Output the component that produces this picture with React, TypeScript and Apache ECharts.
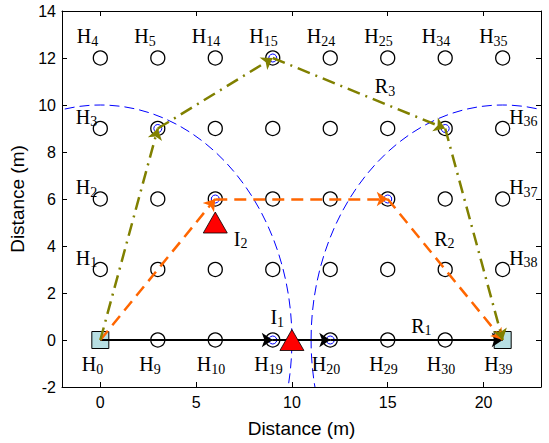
import React, { useEffect, useRef } from "react";
import * as echarts from "echarts";

// Grid of nodes (m)
const gridXs = [0, 3, 6, 9, 12, 15, 18, 21];
const gridYs = [0, 3, 6, 9, 12];

// Node ids labelled around the border
const bottomIds = [0, 9, 10, 19, 20, 29, 30, 39];
const topIds = [4, 5, 14, 15, 24, 25, 34, 35];
const leftIds = [1, 2, 3];
const rightIds = [36, 37, 38];

// Endpoints (squares)
const endpoints = [
  [0, 0],
  [21, 0],
];

// Interferers (triangles)
const interferers = [
  { name: "I", sub: "1", pos: [10, 0] },
  { name: "I", sub: "2", pos: [6, 5] },
];

// Interference ranges: centre x, centre y, radius
const ranges = [
  [0, 0, 10],
  [21, 0, 10],
];

// Routes (waypoints)
const route1 = [
  [0, 0],
  [9, 0],
  [12, 0],
  [21, 0],
];
const route2 = [
  [0, 0],
  [6, 6],
  [15, 6],
  [21, 0],
];
const route3 = [
  [0, 0],
  [3, 9],
  [9, 12],
  [18, 9],
  [21, 0],
];

// Route label anchors
const routeLabels = [
  { name: "R", sub: "1", at: [16.2, 0.6] },
  { name: "R", sub: "2", at: [17.4, 4.3] },
  { name: "R", sub: "3", at: [14.3, 10.8] },
];

const xTicks = [0, 5, 10, 15, 20];

function nodePos(id: number): number[] {
  const col = Math.floor(id / 5);
  const k = id % 5;
  const row = col % 2 === 0 ? k : 4 - k;
  return [gridXs[col], gridYs[row]];
}

const serif = "'Liberation Serif', 'Times New Roman', serif";
const sans = "'Liberation Sans', Arial, Helvetica, sans-serif";

const rich = {
  h: { fontFamily: serif, fontSize: 20, color: "#000", lineHeight: 22, opacity: 1 },
  s: { fontFamily: serif, fontSize: 14, color: "#000", lineHeight: 14, padding: [10, 0, 0, 0], opacity: 1 },
};

function segs(route: number[][]) {
  const out: any[] = [];
  for (let i = 0; i < route.length - 1; i++) {
    out.push({ coords: [route[i], route[i + 1]] });
  }
  return out;
}

function labelSeries(items: { pos: number[]; name: string; sub: string }[], offset: number[]) {
  return {
    type: "scatter",
    symbolSize: 1,
    itemStyle: { color: "rgba(0,0,0,0)", opacity: 1 },
    z: 10,
    silent: true,
    data: items.map((it) => ({ value: it.pos, name: it.name, sub: it.sub })),
    label: {
      show: true,
      position: "right",
      distance: 0,
      align: "left",
      verticalAlign: "middle",
      opacity: 1,
      color: "#000",
      offset,
      formatter: (p: any) => `{h|${p.data.name}}{s|${p.data.sub}}`,
      rich,
    },
  };
}

export default function App() {
  const ref = useRef<HTMLDivElement>(null);
  useEffect(() => {
    const chart = echarts.init(ref.current!, undefined, { renderer: "svg" });
    const allNodes: number[][] = [];
    for (const x of gridXs) for (const y of gridYs) {
      const isEnd = endpoints.some((e) => e[0] === x && e[1] === y);
      if (!isEnd) allNodes.push([x, y]);
    }
    const waypointSet: number[][] = [];
    for (const r of [route1, route2, route3]) {
      for (let i = 1; i < r.length - 1; i++) waypointSet.push(r[i]);
    }
    const mk = (ids: number[]) => ids.map((id) => ({ pos: nodePos(id), name: "H", sub: String(id) }));

    const tickCommon = { inside: true, length: 5, lineStyle: { color: "#000", width: 1 } };
    const option: any = {
      animation: false,
      backgroundColor: "#fff",
      grid: { left: 62, right: 8, top: 11, bottom: 51, show: false },
      xAxis: [
        {
          type: "value",
          min: -2,
          max: 23,
          name: "Distance (m)",
          nameLocation: "middle",
          nameGap: 32,
          nameTextStyle: { fontFamily: sans, fontSize: 19, color: "#000" },
          axisLine: { show: true, onZero: false, lineStyle: { color: "#000", width: 1 } },
          axisTick: { ...tickCommon, customValues: xTicks },
          axisLabel: { customValues: xTicks, fontFamily: sans, fontSize: 16, color: "#000", margin: 7 },
          splitLine: { show: false },
        },
        {
          type: "value",
          position: "top",
          min: -2,
          max: 23,
          axisLine: { show: true, onZero: false, lineStyle: { color: "#000", width: 1 } },
          axisTick: { ...tickCommon, customValues: xTicks },
          axisLabel: { show: false, customValues: xTicks },
          splitLine: { show: false },
        },
      ],
      yAxis: [
        {
          type: "value",
          min: -2,
          max: 14,
          interval: 2,
          name: "Distance (m)",
          nameLocation: "middle",
          nameGap: 30,
          nameTextStyle: { fontFamily: sans, fontSize: 19, color: "#000" },
          axisLine: { show: true, onZero: false, lineStyle: { color: "#000", width: 1 } },
          axisTick: tickCommon,
          axisLabel: { fontFamily: sans, fontSize: 16, color: "#000", margin: 6 },
          splitLine: { show: false },
        },
        {
          type: "value",
          position: "right",
          min: -2,
          max: 14,
          interval: 2,
          axisLine: { show: true, onZero: false, lineStyle: { color: "#000", width: 1 } },
          axisTick: tickCommon,
          axisLabel: { show: false },
          splitLine: { show: false },
        },
      ],
      series: [
        {
          type: "custom",
          clip: true,
          z: 1,
          silent: true,
          data: ranges,
          renderItem: (params: any, api: any) => {
            const c = api.coord([api.value(0), api.value(1)]);
            const s = api.size([api.value(2), api.value(2)]);
            const cs = params.coordSys;
            return {
              type: "group",
              clipPath: { type: "rect", shape: { x: cs.x, y: cs.y, width: cs.width, height: cs.height } },
              children: [
                {
                  type: "ellipse",
                  shape: { cx: c[0], cy: c[1], rx: s[0], ry: s[1] },
                  style: { fill: "none", stroke: "#0000ff", lineWidth: 1, lineDash: [10, 5] },
                },
              ],
            };
          },
        },
        {
          type: "scatter",
          z: 2,
          symbol: "rect",
          symbolSize: 17,
          itemStyle: { color: "#b7dfe3", borderColor: "#000", borderWidth: 1, opacity: 1 },
          data: endpoints,
        },
        {
          type: "scatter",
          z: 3,
          symbol: "circle",
          symbolSize: 14,
          itemStyle: { color: "rgba(0,0,0,0)", borderColor: "#000", borderWidth: 1.3, opacity: 1 },
          data: allNodes,
        },
        {
          type: "scatter",
          z: 3,
          symbol: "circle",
          symbolSize: 8,
          itemStyle: { color: "rgba(0,0,0,0)", borderColor: "#0000ff", borderWidth: 1, opacity: 1 },
          data: waypointSet,
        },
        {
          type: "lines",
          coordinateSystem: "cartesian2d",
          z: 4,
          symbol: ["none", "arrow"],
          symbolSize: 11,
          lineStyle: { color: "#000", width: 2, type: "solid", opacity: 1 },
          data: segs(route1),
        },
        {
          type: "lines",
          coordinateSystem: "cartesian2d",
          z: 4,
          symbol: ["none", "arrow"],
          symbolSize: 11,
          lineStyle: { color: "#ff6600", width: 2.5, type: [12, 7], opacity: 1 },
          data: segs(route2),
        },
        {
          type: "lines",
          coordinateSystem: "cartesian2d",
          z: 4,
          symbol: ["none", "arrow"],
          symbolSize: 11,
          lineStyle: { color: "#808000", width: 2.5, type: [13, 6, 2, 6], opacity: 1 },
          data: segs(route3),
        },
        {
          type: "scatter",
          z: 5,
          symbol: "triangle",
          symbolSize: [24, 21],
          itemStyle: { color: "#ff0000", borderColor: "#000", borderWidth: 0.8, opacity: 1 },
          data: interferers.map((it) => it.pos),
        },
        labelSeries(mk(topIds), [-24, -22]),
        labelSeries(mk(bottomIds), [-19, 24]),
        labelSeries(mk(leftIds), [-25, -12]),
        labelSeries(mk(rightIds), [6, -12]),
        labelSeries([{ ...interferers[0], pos: interferers[0].pos }], [-22, -23]),
        labelSeries([{ ...interferers[1], pos: interferers[1].pos }], [18, 16]),
        labelSeries(routeLabels.map((r) => ({ pos: r.at, name: r.name, sub: r.sub })), [0, 0]),
      ],
    };
    chart.setOption(option);
    return () => chart.dispose();
  }, []);
  return (
    <div
      ref={ref}
      style={{ position: "fixed", left: 0, top: 0, width: 549, height: 443 }}
    />
  );
}
